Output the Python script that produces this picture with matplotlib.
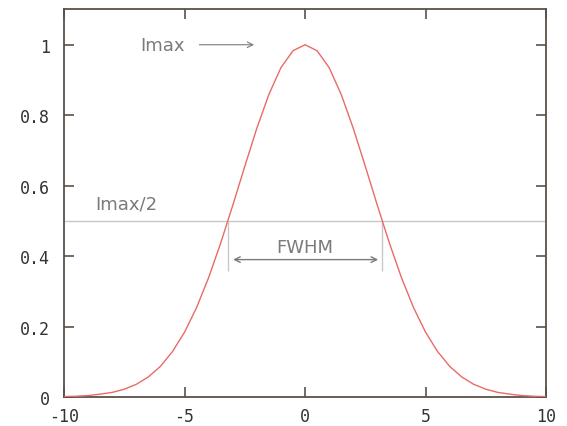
import matplotlib.pyplot as plt

# intensity profile (symmetric about 0)
x_vals = [-10, -9.5, -9, -8.5, -8, -7.5, -7, -6.5, -6, -5.5, -5, -4.5, -4, -3.5, -3,
          -2.5, -2, -1.5, -1, -0.5, 0, 0.5, 1, 1.5, 2, 2.5, 3, 3.5, 4, 4.5, 5,
          5.5, 6, 6.5, 7, 7.5, 8, 8.5, 9, 9.5, 10]
half_y = [0.001, 0.002, 0.004, 0.008, 0.013, 0.022, 0.036, 0.057, 0.087, 0.129, 0.184,
          0.254, 0.339, 0.437, 0.544, 0.655, 0.763, 0.859, 0.935, 0.983]
y_vals = half_y + [1.0] + half_y[::-1]

x_ticks = [-10, -5, 0, 5, 10]
y_ticks = [0, 0.2, 0.4, 0.6, 0.8, 1]
half_max = 0.5
fwhm_left = -3.2
fwhm_right = 3.2

fig = plt.figure(figsize=(5.67, 4.27), dpi=100)
ax = fig.add_axes([0.113, 0.068, 0.85, 0.909])

ax.plot(x_vals, y_vals, color='#ea6a66', lw=1.0, zorder=3)
ax.axhline(half_max, color='#c8c8c8', lw=1.0, zorder=2)

gray = '#7a7a7a'
ax.vlines([fwhm_left, fwhm_right], 0.358, half_max, color='#c8c8c8', lw=1.0)
ax.annotate('', xy=(fwhm_right - 0.05, 0.39), xytext=(fwhm_left + 0.1, 0.39),
            arrowprops=dict(arrowstyle='<->', color=gray, lw=1.0))
ax.text(0, 0.426, 'FWHM', color=gray, fontsize=13, ha='center', va='center',
        family='DejaVu Sans')
ax.text(-8.72, 0.548, 'Imax/2', color=gray, fontsize=13, ha='left', va='center',
        family='DejaVu Sans')
ax.text(-6.85, 1.0, 'Imax', color=gray, fontsize=13, ha='left', va='center',
        family='DejaVu Sans')
ax.annotate('', xy=(-2.0, 1.0), xytext=(-4.5, 1.0),
            arrowprops=dict(arrowstyle='->', color=gray, lw=0.8))

ax.set_xlim(-10, 10)
ax.set_ylim(0, 1.102)
ax.set_xticks(x_ticks)
ax.set_yticks(y_ticks)
ax.set_xticklabels([str(t) for t in x_ticks])
ax.set_yticklabels(['0', '0.2', '0.4', '0.6', '0.8', '1'])
ax.tick_params(direction='in', top=True, right=True, length=7, width=1.2,
               color='#5a5048', labelsize=12, labelcolor='#333333')
ax.tick_params(axis='x', pad=7.5)
ax.tick_params(axis='y', pad=10)
for lab in ax.get_xticklabels() + ax.get_yticklabels():
    lab.set_family('DejaVu Sans Mono')
for sp in ax.spines.values():
    sp.set_color('#5a5048')
    sp.set_linewidth(1.3)

fig.savefig('out.png', dpi=100)
